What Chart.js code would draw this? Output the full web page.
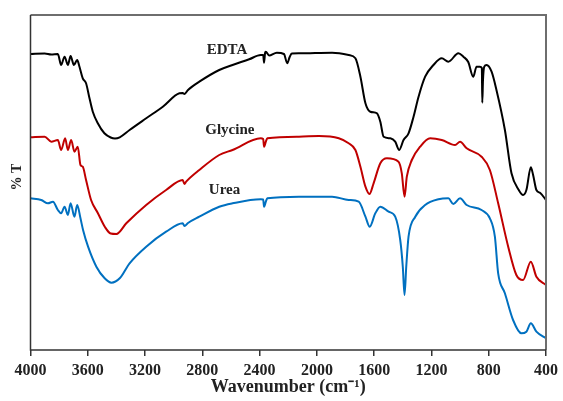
<!DOCTYPE html>
<html>
<head>
<meta charset="utf-8">
<script src="https://cdn.jsdelivr.net/npm/chart.js@4.4.1/dist/chart.umd.min.js"></script>
<style>
html,body{margin:0;padding:0;background:#fff;}
#wrap{width:563px;height:401px;}
</style>
</head>
<body>
<div id="wrap"><canvas id="c" width="563" height="401"></canvas></div>
<script>
const xTicks = [4000, 3600, 3200, 2800, 2400, 2000, 1600, 1200, 800, 400];
const seriesNames = ["EDTA", "Glycine", "Urea"];

const edtaWn = [4000,3901,3855,3809,3786,3762,3739,3720,3697,3674,3658,3635,3612,3588,3565,3530,3484,3440,3410,3377,3308,3192,3076,2960,2937,2925,2900,2821,2682,2589,2473,2392,2375,2369,2362,2357,2334,2280,2230,2207,2190,2175,2125,1894,1778,1731,1696,1661,1627,1580,1557,1534,1487,1453,1425,1395,1360,1325,1290,1244,1186,1128,1082,1012,977,943,908,885,861,848,845,840,831,815,780,746,687,641,590,560,537,506,490,467,440,400];
const edtaT  = [296,296.5,295.5,296,285,293.3,285,294,285,290,283.3,271.7,266.7,251.7,238.3,226.7,216.7,212.5,211.5,212.7,220,231.7,243.3,256.7,257,256,260,268.3,280,285,290.7,295,295,287.3,297,298.3,294.5,297.3,296,286.7,293,296.5,296.7,297.3,295,291.7,273.3,246.7,238.3,236.7,228.3,213.3,211.7,208.3,200,210,216.7,233.3,253.3,273.3,285,291.7,288.3,296.7,293.3,288,273.3,283.3,283.3,282,247.3,270,283.3,285,278.3,260,220,176.7,160,155,160,182.7,175,160,157,150];

const glyWn = [4000,3901,3855,3809,3786,3758,3739,3716,3693,3670,3651,3635,3612,3577,3530,3480,3440,3400,3331,3192,3053,2937,2925,2913,2821,2682,2589,2392,2375,2369,2355,2346,2125,1986,1847,1778,1731,1696,1661,1633,1604,1557,1511,1430,1407,1388,1372,1337,1279,1209,1128,1035,1000,954,850,792,734,664,607,560,506,467,400];
const glyT  = [212.7,213.3,208.3,210,200,211.7,200,210,198.3,203.3,185,183.3,170,150,137,123,116.5,116,126.7,145,160,170,166,168.3,180,195,200,211.7,211,203.3,209,211.7,213.3,214,211.7,206.7,200,183.3,163.3,156,166.7,186.7,191.7,188.3,176.7,153.3,173.3,190,203.3,211.7,210,205,208.3,201.7,193.3,180,146.7,103.3,75,70,88.3,73.3,65];

const ureaWn = [4000,3925,3878,3843,3809,3786,3762,3739,3720,3693,3674,3651,3633,3598,3540,3482,3435,3377,3308,3192,3053,2937,2925,2900,2821,2682,2589,2392,2375,2369,2355,2346,2125,1894,1778,1708,1661,1631,1592,1557,1499,1453,1418,1400,1388,1376,1360,1313,1244,1151,1082,1047,1000,954,850,792,757,734,687,630,572,537,506,467,400];
const ureaT  = [151.7,150,146.7,148.3,140,136.7,143.3,135,146.7,133.3,145,131.7,120,103.3,83.3,71.7,67.3,71.7,86.7,103.3,118.3,126.7,124,127,133.3,143.3,146.7,150.7,150.5,143.3,149,151.7,153.3,153.3,150,148.3,133.3,123.3,136.7,143.3,138.3,133.3,110,83.3,55,83.3,113.3,133.3,145,150.7,151.7,146,151.7,145,140,131.7,113.3,76.7,56.7,30,16.7,18.3,26.7,18.3,11.7];

const labelPos = [ {x:2628, y:300}, {x:2608, y:220}, {x:2645, y:160} ];

function pts(w, t){ return w.map((v,i)=>({x:v, y:t[i]})); }

const framePlugin = {
  id:'frame',
  afterDraw(chart){
    const ctx = chart.ctx, a = chart.chartArea;
    ctx.save();
    ctx.strokeStyle = '#6e6e6e';
    ctx.lineWidth = 2;
    ctx.beginPath();
    ctx.moveTo(a.left, a.top); ctx.lineTo(a.right, a.top); ctx.lineTo(a.right, a.bottom);
    ctx.stroke();
    ctx.strokeStyle = '#333';
    ctx.lineWidth = 1.5;
    ctx.beginPath();
    ctx.moveTo(a.left, a.top); ctx.lineTo(a.left, a.bottom); ctx.lineTo(a.right, a.bottom);
    ctx.stroke();
    ctx.fillStyle = '#222';
    ctx.font = 'bold 15px "Liberation Serif", "Times New Roman", serif';
    ctx.textAlign = 'center'; ctx.textBaseline = 'middle';
    const xs = chart.scales.x, ys = chart.scales.y;
    seriesNames.forEach((n,i)=>{
      ctx.fillText(n, xs.getPixelForValue(labelPos[i].x), ys.getPixelForValue(labelPos[i].y));
    });
    ctx.font = 'bold 18px "Liberation Serif", "Times New Roman", serif';
    ctx.fillText('Wavenumber (cm\u207B\u00B9)', (a.left + a.right)/2, 387);
    ctx.translate(17, 177);
    ctx.rotate(-Math.PI/2);
    ctx.font = 'bold 14px "Liberation Serif", "Times New Roman", serif';
    ctx.fillText('% T', 0, 0);
    ctx.restore();
  }
};

new Chart(document.getElementById('c'), {
  type:'line',
  data:{
    datasets:[
      {label:seriesNames[0], data:pts(edtaWn, edtaT), borderColor:'#000000'},
      {label:seriesNames[1], data:pts(glyWn, glyT), borderColor:'#C00000'},
      {label:seriesNames[2], data:pts(ureaWn, ureaT), borderColor:'#0070C0'}
    ]
  },
  options:{
    responsive:false, animation:false, devicePixelRatio:1,
    layout:{padding:{top:15, right:15, left:0, bottom:0}},
    elements:{line:{borderWidth:2, cubicInterpolationMode:'monotone'}, point:{radius:0}},
    plugins:{legend:{display:false}, tooltip:{enabled:false}},
    scales:{
      x:{
        type:'linear', reverse:true, min:400, max:4000,
        afterFit(s){ s.height = 51; },
        afterBuildTicks(s){ s.ticks = xTicks.map(v=>({value:v})); },
        ticks:{ color:'#222', maxRotation:0, autoSkip:false, padding:5,
          font:{family:'"Liberation Serif", "Times New Roman", serif', size:16, weight:'bold'},
          callback:(v)=>String(v) },
        grid:{display:true, drawOnChartArea:false, drawTicks:true, tickLength:6, color:'#333', lineWidth:1.5},
        border:{display:false}
      },
      y:{
        min:0, max:335,
        afterFit(s){ s.width = 30.5; },
        ticks:{display:false},
        grid:{display:false},
        border:{display:false}
      }
    }
  },
  plugins:[framePlugin]
});
</script>
</body>
</html>
